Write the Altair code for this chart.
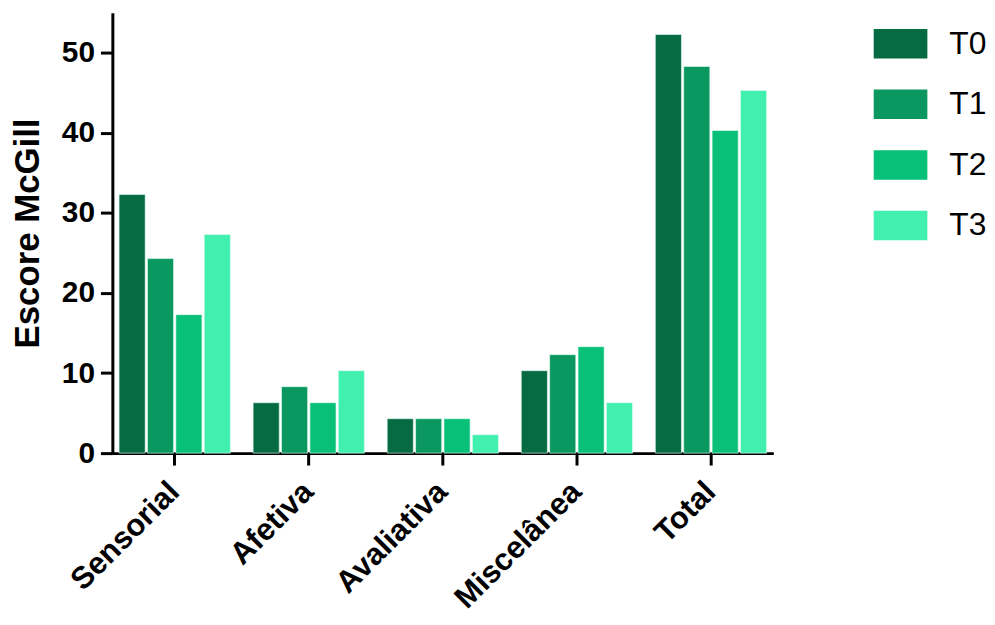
import altair as alt
import pandas as pd

categories = ["Sensorial", "Afetiva", "Avaliativa", "Miscelânea", "Total"]
series = ["T0", "T1", "T2", "T3"]
t0 = [32.3, 6.3, 4.3, 10.3, 52.3]
t1 = [24.3, 8.3, 4.3, 12.3, 48.3]
t2 = [17.3, 6.3, 4.3, 13.3, 40.3]
t3 = [27.3, 10.3, 2.3, 6.3, 45.3]
colors = ["#066a43", "#0a9760", "#08c078", "#41f0ae"]
y_ticks = [0, 10, 20, 30, 40, 50]

rows = []
for s, vals in zip(series, [t0, t1, t2, t3]):
    for c, v in zip(categories, vals):
        rows.append({"categoria": c, "tempo": s, "valor": v})
df = pd.DataFrame(rows)

FONT = "Liberation Sans"

chart = (
    alt.Chart(df)
    .mark_bar(stroke="#e8fff4", strokeWidth=0.6)
    .encode(
        x=alt.X(
            "categoria:N",
            sort=categories,
            scale=alt.Scale(paddingInner=0.17, paddingOuter=0.05),
            axis=alt.Axis(
                title=None,
                labelAngle=315,
                labelAlign="right",
                labelBaseline="middle",
                labelFont=FONT,
                labelFontWeight="bold",
                labelFontSize=31,
                labelColor="black",
                labelPadding=22,
                tickSize=12,
                tickWidth=3,
                tickColor="black",
                domainWidth=3,
                domainColor="black",
                grid=False,
            ),
        ),
        xOffset=alt.XOffset(
            "tempo:N", sort=series, scale=alt.Scale(paddingInner=0.08, paddingOuter=0)
        ),
        y=alt.Y(
            "valor:Q",
            scale=alt.Scale(domain=[0, 55], nice=False),
            axis=alt.Axis(
                title="Escore McGill",
                values=y_ticks,
                titleFont=FONT,
                titleFontWeight="bold",
                titleFontSize=35,
                titleColor="black",
                titleAngle=270,
                titleX=-85,
                titleY=221.5,
                titleAlign="center",
                titleBaseline="middle",
                labelFont=FONT,
                labelFontWeight="bold",
                labelFontSize=30,
                labelColor="black",
                labelPadding=6,
                tickSize=12,
                tickWidth=3,
                tickColor="black",
                domainWidth=3,
                domainColor="black",
                grid=False,
            ),
        ),
        color=alt.Color(
            "tempo:N",
            sort=series,
            scale=alt.Scale(domain=series, range=colors),
            legend=alt.Legend(
                title=None,
                orient="none",
                legendX=766,
                legendY=4,
                symbolType="M-1,-0.55H1V0.55H-1Z",
                symbolSize=2916,
                symbolStrokeWidth=0,
                labelFont=FONT,
                labelFontSize=32,
                labelColor="black",
                labelOffset=22,
                rowPadding=18,
            ),
        ),
    )
    .properties(
        width=665,
        height=443,
        autosize=alt.AutoSizeParams(type="none"),
        padding={"left": 105, "top": 3, "right": 215, "bottom": 160},
    )
    .configure_view(stroke=None)
)

chart.save("out.html", embed_options={"renderer": "svg", "actions": False})
